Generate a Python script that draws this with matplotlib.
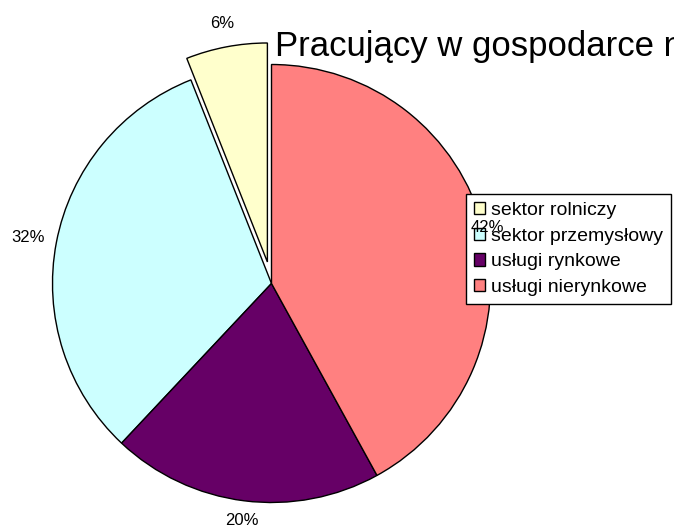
import numpy as np
import matplotlib
matplotlib.use('Agg')
import matplotlib.pyplot as plt

plt.rcParams['font.family'] = ['Liberation Sans', 'DejaVu Sans']

# data
sectors = ['sektor rolniczy', 'sektor przemysłowy', 'usługi rynkowe', 'usługi nierynkowe']
shares = [6, 32, 20, 42]
colors = ['#FFFFCC', '#CCFFFF', '#660066', '#FF8080']
explode = [0.1, 0, 0, 0]
label_radius = [1.11, 1.13, 1.09, 1.02]  # where the % labels sit, in pie radii

W, H = 674, 529
cx, cy, r = 271.5, 529 - 283.5, 219.0  # pie centre / radius in pixels

fig = plt.figure(figsize=(W / 100, H / 100), dpi=100)
ax = fig.add_axes([0, 0, 1, 1])

wedges, texts, autotexts = ax.pie(
    shares, colors=colors, explode=explode, startangle=90, counterclock=True,
    autopct='%1.0f%%', pctdistance=1.1,
    wedgeprops=dict(edgecolor='black', linewidth=1.0),
    textprops=dict(fontsize=12, color='black'))

# move the percentage labels to match the original spacing
for w, t, rr in zip(wedges, autotexts, label_radius):
    ang = np.deg2rad((w.theta1 + w.theta2) / 2)
    x0, y0 = w.center
    t.set_position((x0 + rr * np.cos(ang), y0 + rr * np.sin(ang)))
    t.set_zorder(6)  # 42% sits on top of the legend

ax.set_xlim(-cx / r, (W - cx) / r)
ax.set_ylim(-cy / r, (H - cy) / r)
ax.set_aspect('auto')
ax.axis('off')

# title runs off the right edge in the original
fig.text(275 / W, 1 - 56 / H, 'Pracujący w gospodarce narodowej',
         fontsize=25, ha='left', va='baseline')

leg = ax.legend(wedges, sectors, loc='upper left',
                bbox_to_anchor=(466 / W, 1 - 194 / H),
                bbox_transform=fig.transFigure,
                fontsize=14, frameon=True, fancybox=False,
                edgecolor='black', framealpha=1, borderpad=0.4,
                handlelength=0.6, handleheight=0.6, handletextpad=0.3,
                labelspacing=0.45, borderaxespad=0)
leg.get_frame().set_linewidth(1.0)
leg.set_zorder(5)

fig.savefig('out.png', dpi=100)
